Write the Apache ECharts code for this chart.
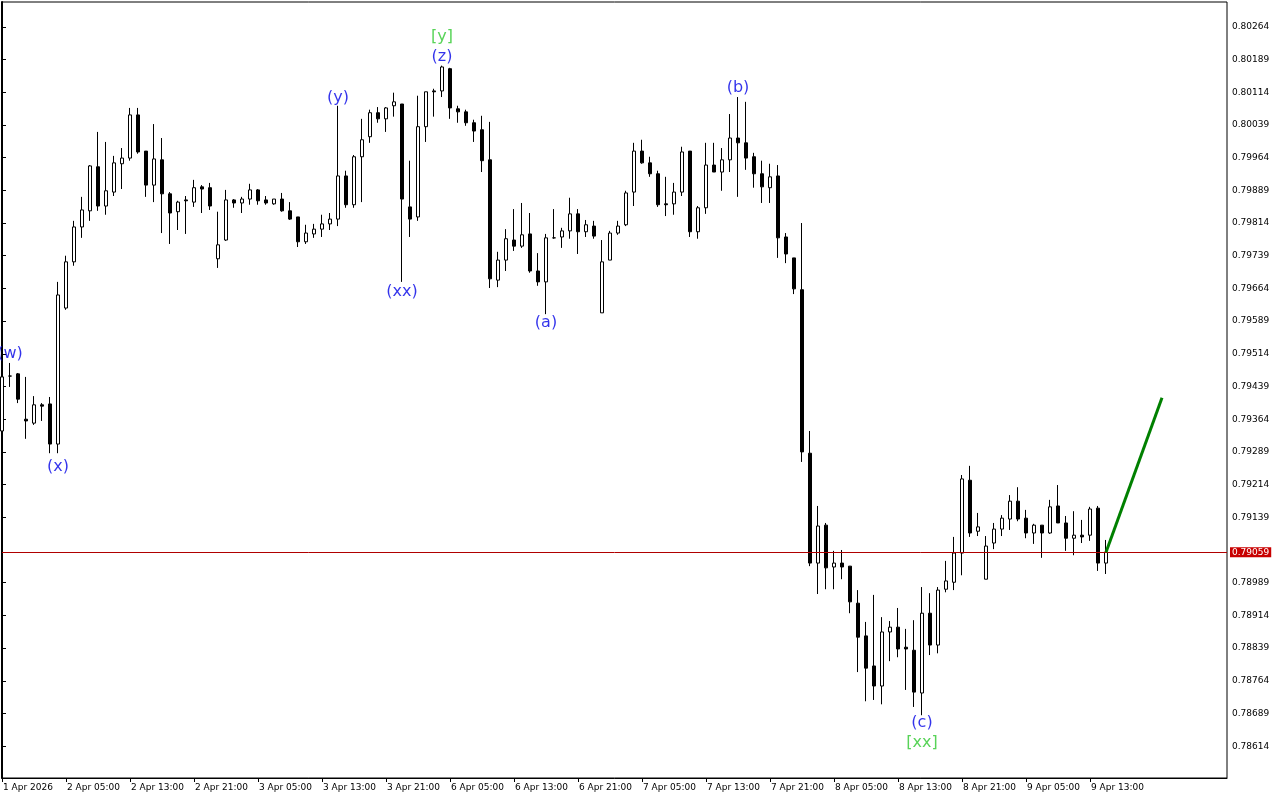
<!DOCTYPE html>
<html><head><meta charset="utf-8">
<script src="https://cdn.jsdelivr.net/npm/echarts@6/dist/echarts.min.js"></script>
<style>html,body{margin:0;padding:0;background:#fff}#c{width:1280px;height:800px}</style>
</head><body><div id="c"></div>
<script>
// H1 candles, 1 Apr 2026 21:00 .. 9 Apr 2026 15:00
const opens = [0.79337,0.79463,0.79468,0.79364,0.79355,0.79397,0.79399,0.79307,0.79619,0.79725,
0.79805,0.79842,0.79943,0.79853,0.79885,0.79950,0.79963,0.80062,0.79979,0.79901,
0.79959,0.79881,0.79840,0.79867,0.79862,0.79897,0.79895,0.79732,0.79775,0.79867,
0.79860,0.79869,0.79890,0.79867,0.79858,0.79869,0.79842,0.79828,0.79771,0.79789,
0.79800,0.79812,0.79823,0.79922,0.79856,0.79966,0.80012,0.80067,0.80053,0.80083,
0.80087,0.79851,0.79828,0.80035,0.80117,0.80117,0.80168,0.80076,0.80069,0.80044,
0.80028,0.79959,0.79683,0.79729,0.79775,0.79761,0.79789,0.79704,0.79679,0.79780,
0.79782,0.79796,0.79835,0.79794,0.79807,0.79608,0.79729,0.79791,0.79810,0.79885,
0.79979,0.79952,0.79927,0.79858,0.79858,0.79885,0.79979,0.79794,0.79849,0.79947,
0.79931,0.79959,0.80009,0.79998,0.79966,0.79927,0.79895,0.79922,0.79782,0.79734,
0.79661,0.79286,0.79034,0.79121,0.79025,0.79034,0.79027,0.78942,0.78867,0.78798,
0.78752,0.78876,0.78887,0.78841,0.78834,0.78736,0.78919,0.78846,0.78974,0.78990,
0.79057,0.79224,0.79107,0.78997,0.79080,0.79112,0.79135,0.79176,0.79137,0.79103,
0.79121,0.79103,0.79165,0.79126,0.79091,0.79098,0.79098,0.79160,0.79034];
const closes = [0.79461,0.79463,0.79410,0.79360,0.79397,0.79394,0.79307,0.79649,0.79725,0.79805,
0.79844,0.79945,0.79853,0.79888,0.79952,0.79963,0.80062,0.79977,0.79901,0.79961,
0.79881,0.79837,0.79862,0.79865,0.79895,0.79892,0.79853,0.79764,0.79867,0.79860,
0.79869,0.79890,0.79865,0.79860,0.79869,0.79842,0.79823,0.79771,0.79791,0.79800,
0.79812,0.79823,0.79922,0.79856,0.79966,0.80005,0.80067,0.80053,0.80078,0.80092,
0.79869,0.79823,0.80035,0.80115,0.80115,0.80172,0.80078,0.80069,0.80044,0.80025,
0.79957,0.79686,0.79729,0.79778,0.79761,0.79787,0.79704,0.79679,0.79780,0.79780,
0.79796,0.79835,0.79794,0.79810,0.79784,0.79725,0.79791,0.79807,0.79883,0.79979,
0.79952,0.79927,0.79856,0.79856,0.79885,0.79977,0.79794,0.79849,0.79947,0.79931,
0.79959,0.80009,0.79998,0.79963,0.79927,0.79897,0.79920,0.79780,0.79743,0.79663,
0.79289,0.79034,0.79119,0.79023,0.79034,0.79025,0.78945,0.78864,0.78793,0.78752,
0.78876,0.78887,0.78837,0.78837,0.78738,0.78919,0.78846,0.78972,0.78993,0.79057,
0.79227,0.79103,0.79117,0.79073,0.79112,0.79137,0.79176,0.79135,0.79103,0.79121,
0.79103,0.79163,0.79126,0.79091,0.79098,0.79094,0.79158,0.79034,0.79059];
const highs = [0.79463,0.79493,0.79470,0.79461,0.79417,0.79401,0.79415,0.79679,0.79739,0.79819,
0.79874,0.79947,0.80023,0.80000,0.79968,0.79986,0.80078,0.80078,0.79979,0.80041,
0.80009,0.79885,0.79865,0.79876,0.79913,0.79901,0.79906,0.79840,0.79890,0.79869,
0.79874,0.79904,0.79892,0.79876,0.79869,0.79883,0.79862,0.79828,0.79810,0.79812,
0.79833,0.79837,0.80083,0.79934,0.79970,0.80053,0.80074,0.80080,0.80080,0.80113,
0.80087,0.79957,0.80106,0.80115,0.80122,0.80175,0.80170,0.80083,0.80074,0.80051,
0.80060,0.80046,0.79748,0.79800,0.79846,0.79860,0.79837,0.79745,0.79789,0.79846,
0.79803,0.79872,0.79846,0.79821,0.79819,0.79775,0.79796,0.79819,0.79888,0.79998,
0.80005,0.79966,0.79934,0.79920,0.79906,0.79989,0.79979,0.79853,0.79998,0.79998,
0.79986,0.80064,0.80103,0.80092,0.79975,0.79957,0.79950,0.79947,0.79791,0.79734,
0.79814,0.79337,0.79165,0.79126,0.79062,0.79064,0.79027,0.78972,0.78899,0.78961,
0.78910,0.78901,0.78931,0.78883,0.78903,0.78979,0.78965,0.78979,0.79039,0.79094,
0.79236,0.79257,0.79149,0.79096,0.79126,0.79144,0.79190,0.79208,0.79156,0.79124,
0.79121,0.79179,0.79213,0.79142,0.79153,0.79133,0.79163,0.79165,0.79087];
const lows = [0.79335,0.79438,0.79401,0.79319,0.79351,0.79360,0.79286,0.79286,0.79615,0.79716,
0.79780,0.79819,0.79842,0.79833,0.79876,0.79892,0.79957,0.79973,0.79874,0.79862,
0.79791,0.79766,0.79798,0.79789,0.79851,0.79837,0.79844,0.79711,0.79773,0.79849,
0.79837,0.79856,0.79856,0.79856,0.79856,0.79840,0.79821,0.79759,0.79766,0.79780,
0.79782,0.79798,0.79807,0.79849,0.79849,0.79862,0.79998,0.80044,0.80023,0.80058,
0.79679,0.79782,0.79819,0.80000,0.80058,0.80103,0.80053,0.80044,0.80037,0.80000,
0.79931,0.79665,0.79667,0.79704,0.79750,0.79757,0.79700,0.79670,0.79605,0.79778,
0.79757,0.79778,0.79743,0.79782,0.79778,0.79608,0.79729,0.79787,0.79807,0.79853,
0.79950,0.79920,0.79851,0.79830,0.79833,0.79876,0.79782,0.79778,0.79835,0.79931,
0.79888,0.79931,0.79874,0.79936,0.79895,0.79860,0.79860,0.79734,0.79722,0.79651,
0.79266,0.79027,0.78963,0.78974,0.78974,0.78997,0.78919,0.78784,0.78717,0.78720,
0.78710,0.78809,0.78818,0.78743,0.78704,0.78685,0.78823,0.78827,0.78967,0.78972,
0.79006,0.79094,0.79096,0.78997,0.79066,0.79096,0.79110,0.79130,0.79091,0.79078,
0.79046,0.79101,0.79126,0.79062,0.79052,0.79080,0.79085,0.79016,0.79009];

const timeLabels = ['1 Apr 2026','2 Apr 05:00','2 Apr 13:00','2 Apr 21:00','3 Apr 05:00','3 Apr 13:00',
'3 Apr 21:00','6 Apr 05:00','6 Apr 13:00','6 Apr 21:00','7 Apr 05:00','7 Apr 13:00','7 Apr 21:00',
'8 Apr 05:00','8 Apr 13:00','8 Apr 21:00','9 Apr 05:00','9 Apr 13:00'];
const timeLabelBars = [0,8,16,24,32,40,48,56,64,72,80,88,96,104,112,120,128,136];
const priceTicks = [0.80264,0.80189,0.80114,0.80039,0.79964,0.79889,0.79814,0.79739,0.79664,0.79589,
0.79514,0.79439,0.79364,0.79289,0.79214,0.79139,0.78989,0.78914,0.78839,0.78764,0.78689,0.78614];

const waveTexts = ['(w)','(x)','(y)','(xx)','[y]','(z)','(a)','(b)','(c)','[xx]'];
const waveBars = [1,7,42,50,55,55,68,92,115,115];
const wavePrices = [0.79514,0.79254,0.80101,0.79656,0.80241,0.80195,0.79585,0.80124,0.78667,0.78621];
const waveKinds = ['minor','minor','minor','minor','major','minor','minor','minor','minor','major'];

const currentPrice = 0.79059;
const forecastBars = [138, 145];
const forecastPrices = [0.79059, 0.79413];

const BLUE = '#0000e6', LIME = '#2ec82e';
const chart = echarts.init(document.getElementById('c'), null, {renderer: 'canvas'});
const font = 'DejaVu Sans';
chart.setOption({
  animation: false,
  backgroundColor: '#ffffff',
  grid: {left: 2, right: 53, top: 2, bottom: 22, show: true, borderColor: '#000', borderWidth: 1, backgroundColor: 'transparent'},
  xAxis: {
    type: 'value', min: 0, max: 153.125,
    axisLine: {show: true, lineStyle: {color: '#000', width: 1}},
    axisTick: {show: true, customValues: timeLabelBars, length: 4, lineStyle: {color: '#000'}},
    axisLabel: {show: true, customValues: timeLabelBars, align: 'left', margin: 5, fontSize: 9, fontFamily: font, color: '#000', padding: [0,0,0,1],
      formatter: v => timeLabels[timeLabelBars.indexOf(Math.round(v))] || ''},
    splitLine: {show: false}
  },
  yAxis: {
    type: 'value', position: 'right', min: 0.78541, max: 0.80321, scale: true,
    axisLine: {show: true, lineStyle: {color: '#000', width: 2}},
    axisTick: {show: true, customValues: priceTicks, length: 4, lineStyle: {color: '#000'}},
    axisLabel: {show: true, customValues: priceTicks, margin: 5, fontSize: 9, fontFamily: font, color: '#000',
      formatter: v => v.toFixed(5)},
    splitLine: {show: false}
  },
  series: [
    {
      type: 'candlestick',
      data: opens.map((o, i) => [i, o, closes[i], lows[i], highs[i]]),
      encode: {x: 0, y: [1, 2, 3, 4]},
      barWidth: 4,
      itemStyle: {color: '#ffffff', color0: '#000000', borderColor: '#000000', borderColor0: '#000000', borderWidth: 1}
    },
    {
      type: 'line', data: forecastBars.map((b, i) => [b, forecastPrices[i]]),
      symbol: 'none', lineStyle: {color: '#008000', width: 3}, z: 5,
      markLine: {
        silent: true, symbol: 'none', animation: false, precision: 5,
        data: [{yAxis: currentPrice}],
        lineStyle: {color: '#b00000', width: 1, type: 'solid'},
        label: {show: true, position: 'end', formatter: currentPrice.toFixed(5), backgroundColor: '#c80000', color: '#fff',
          fontSize: 9, fontFamily: font, padding: [1, 2, 0, 2], distance: 3}
      }
    },
    {
      type: 'scatter', symbolSize: 0, z: 6,
      data: waveTexts.map((t, i) => ({value: [waveBars[i], wavePrices[i]],
        label: {color: waveKinds[i] === 'major' ? LIME : BLUE}})),
      label: {show: true, position: 'inside', fontSize: 16, fontFamily: font,
        formatter: p => waveTexts[p.dataIndex]}
    }
  ]
});
</script></body></html>
